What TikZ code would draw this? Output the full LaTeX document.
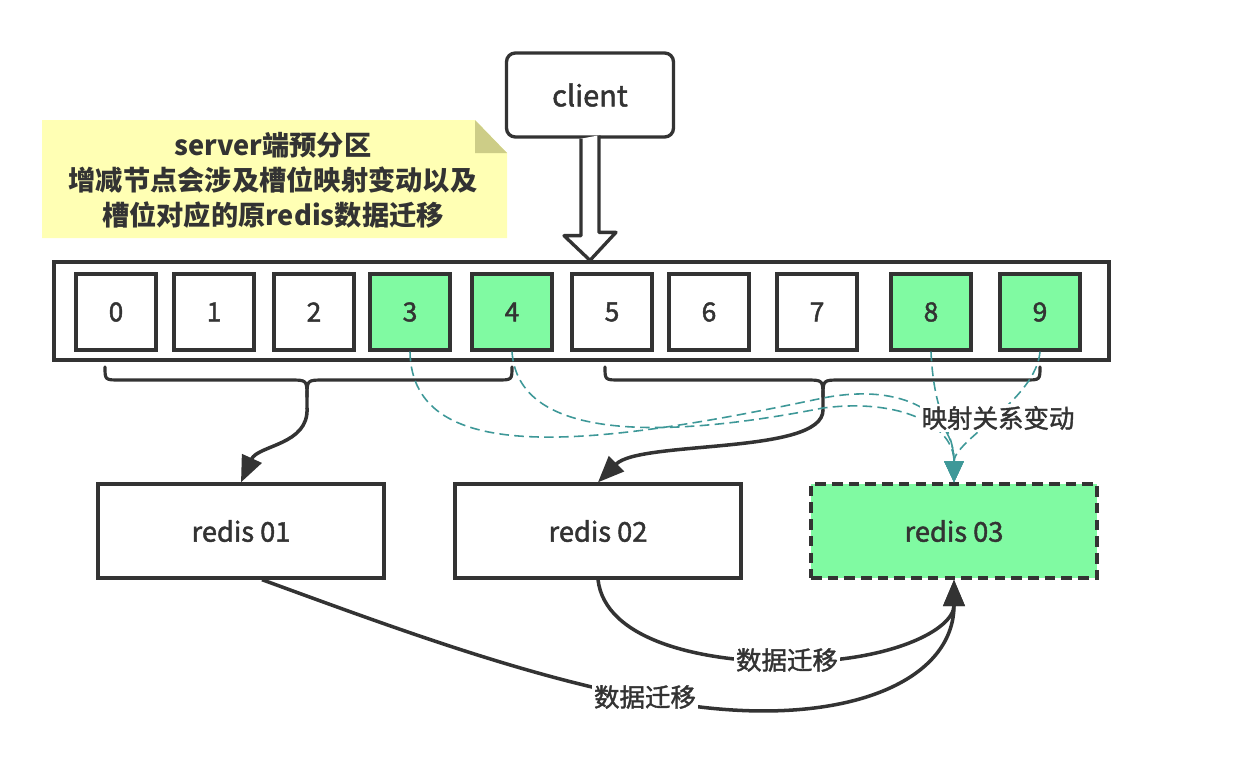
\documentclass[tikz,border=0pt]{standalone}
\usepackage{fontspec}
\setmainfont{Noto Sans CJK SC}
\newfontfamily\labelfont{Noto Sans CJK SC}[FakeBold = 1.6]
\usepackage{tikz}
\usetikzlibrary{arrows.meta}
\definecolor{ink}{RGB}{51,51,51}
\definecolor{slotgreen}{RGB}{128,250,162}
\definecolor{noteyellow}{RGB}{255,255,180}
\definecolor{notefold}{RGB}{205,205,135}
\definecolor{mapteal}{RGB}{62,152,152}

\begin{document}
\begin{tikzpicture}[x = 0.02cm, y = -0.02cm,
  slot/.style = {draw = ink, line width = 1.9pt, minimum width = 1.6cm,
    minimum height = 1.52cm, text = ink, font = \fontsize{15}{18}\labelfont},
  redis/.style = {draw = ink, line width = 1.9pt, fill = white, minimum width = 5.72cm,
    minimum height = 1.88cm, text = ink, font = \fontsize{15.5}{18}\labelfont},
  brace/.style = {draw = ink, line width = 1.8pt, line cap = round},
  flow/.style = {draw = ink, line width = 2pt, -{Triangle[length = 15pt, width = 12pt]}},
  remap/.style = {draw = mapteal, line width = 0.9pt, dash pattern = on 5.5pt off 3pt,
    -{Triangle[length = 12pt, width = 11pt, fill = mapteal]}},
  tag/.style = {fill = white, inner sep = 1pt, text = ink, font = \fontsize{14.5}{17}\labelfont}]
\useasboundingbox (0, 0) rectangle (1238, 768);
%\draw[very thin, color = gray, step = 50] (0, 0) grid (1238, 768);
% note with folded corner
\fill[noteyellow] (42, 120) -- (475, 120) -- (507, 153) -- (507, 238) -- (42, 238) -- cycle;
\fill[notefold] (475, 120) -- (475, 153) -- (507, 153) -- cycle;
\node (note) at (273, 180) [align = center, text = ink, font = \fontsize{15.5}{20}\selectfont\bfseries]
  {server端预分区\\增减节点会涉及槽位映射变动以及\\槽位对应的原redis数据迁移};
% client and slot strip
\node (client) at (590, 95) [draw = ink, line width = 1.9pt, rounded corners = 5pt, minimum width = 3.34cm,
  minimum height = 1.68cm, text = ink, font = \fontsize{16.5}{19}\labelfont] {client};
\node (strip) at (581.5, 311) [draw = ink, line width = 1.9pt, minimum width = 21.1cm, minimum height = 1.96cm] {};
\draw[ink, line width = 1.9pt, fill = white, line join = round] (client.south) ++(-9, 0) -- ++(0, 97)
  -- ++(-17, 0) -- (client.south |- strip.north) -- ++(26, -28) -- ++(-17, 0) -- ++(0, -97);
\node (s0) at (116, 312) [slot] {0};
\node (s1) at (214, 312) [slot] {1};
\node (s2) at (314, 312) [slot] {2};
\node (s3) at (410, 312) [slot, fill = slotgreen] {3};
\node (s4) at (512, 312) [slot, fill = slotgreen] {4};
\node (s5) at (612, 312) [slot] {5};
\node (s6) at (709, 312) [slot] {6};
\node (s7) at (817, 312) [slot] {7};
\node (s8) at (931, 312) [slot, fill = slotgreen] {8};
\node (s9) at (1040, 312) [slot, fill = slotgreen] {9};
% redis nodes
\node (r1) at (241, 531) [redis] {redis 01};
\node (r2) at (598, 531) [redis] {redis 02};
\node (r3) at (954, 531) [redis, fill = slotgreen, dash pattern = on 6pt off 3.5pt] {redis 03};
% braces
\coordinate (tipL) at (307, 408);
\coordinate (tipR) at (823, 410);
\draw[brace] (105, 367) .. controls (105, 380) .. (120, 380) -- (290, 380) .. controls (307, 380) .. (307, 397) -- (tipL);
\draw[brace] (s4.south |- 0, 367) .. controls (512, 380) .. (497, 380) -- (324, 380) .. controls (307, 380) .. (307, 397);
\draw[brace] (605, 367) .. controls (605, 380) .. (620, 380) -- (806, 380) .. controls (823, 380) .. (823, 397) -- (tipR);
\draw[brace] (s9.south |- 0, 367) .. controls (1040, 380) .. (1025, 380) -- (840, 380) .. controls (823, 380) .. (823, 397);
\draw[flow] (tipL) .. controls (309, 445) and (258, 445) .. (r1.north);
\draw[flow] (tipR) .. controls (823, 455) and (640, 440) .. (r2.north);
% changed mapping
\draw[remap] (s3.south) .. controls (412, 470) and (600, 445) .. (823, 398) .. controls (905, 382) and (954, 415) .. (r3.north);
\draw[remap] (s4.south) .. controls (518, 440) and (660, 440) .. (823, 408) .. controls (900, 398) and (954, 425) .. (r3.north);
\draw[remap] (s8.south) .. controls (934, 420) and (954, 430) .. (r3.north);
\draw[remap] (s9.south) .. controls (1036, 400) and (954, 440) .. (r3.north);
\node (remaplabel) at (998, 418) [tag] {映射关系变动};
% data migration
\draw[flow] ([xshift = 0.42cm]r1.south) .. controls (400, 630) and (560, 690) .. (700, 707)
  .. controls (850, 725) and (954, 680) .. (r3.south);
\draw[flow] (r2.south) .. controls (605, 640) and (700, 662) .. (790, 662)
  .. controls (890, 662) and (954, 630) .. (r3.south);
\node (mig1) at (645, 697) [tag] {数据迁移};
\node (mig2) at (787, 660) [tag] {数据迁移};
\end{tikzpicture}
\end{document}
